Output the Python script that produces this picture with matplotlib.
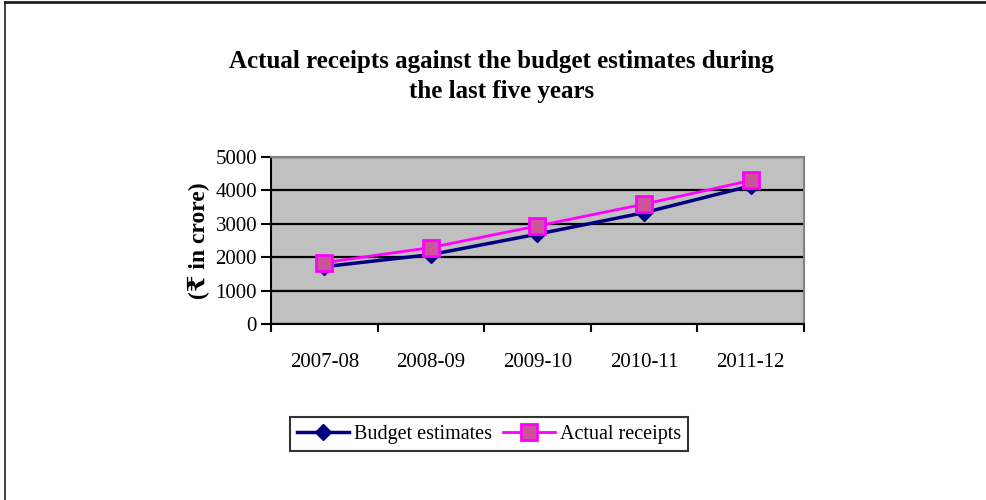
import matplotlib as mpl
mpl.use('Agg')
import matplotlib.pyplot as plt
from matplotlib.lines import Line2D
import numpy as np

# Chart data
years = ['2007-08', '2008-09', '2009-10', '2010-11', '2011-12']
budget = [1720, 2080, 2690, 3330, 4130]
actual = [1840, 2290, 2935, 3585, 4290]
yticks = [0, 1000, 2000, 3000, 4000, 5000]

plt.rcParams['font.family'] = ['Liberation Serif', 'DejaVu Serif']

fig = plt.figure(figsize=(9.86, 5.0), dpi=100)
ax = fig.add_axes([0.2748, 0.3514, 0.5406, 0.3352])
ax.set_facecolor('#c0c0c0')

x = np.arange(len(years))
ax.plot(x, budget, color='#000080', lw=2.5, marker='D', ms=8,
        mfc='#000080', mec='#000080', label='Budget estimates', zorder=3)
ax.plot(x, actual, color='#ff00ff', lw=2, marker='s', ms=12,
        mfc='#cc5599', mec='#ff00ff', mew=2, label='Actual receipts', zorder=4)

ax.set_xlim(-0.5, len(years) - 0.5)
ax.set_ylim(0, 5000)
ax.set_yticks(yticks)
ax.yaxis.grid(True, color='black', lw=1.6)
ax.set_axisbelow(True)

# category boundaries get tick marks, labels sit in the middle
ax.set_xticks(np.arange(-0.5, len(years), 1.0))
ax.set_xticklabels([])
ax.set_xticks(x, minor=True)
ax.set_xticklabels(years, minor=True, fontsize=15)
ax.tick_params(axis='x', which='minor', length=0, pad=21)
ax.tick_params(axis='x', which='major', length=6, width=1.5, direction='out')
ax.tick_params(axis='y', length=7, width=1.5, direction='out', labelsize=15, pad=3)

for s in ['top', 'right']:
    ax.spines[s].set_color('#808080')
    ax.spines[s].set_linewidth(1.5)
for s in ['left', 'bottom']:
    ax.spines[s].set_color('black')
    ax.spines[s].set_linewidth(1.5)

ax.set_ylabel('(\u20b9 in crore)', fontsize=17, fontweight='bold', labelpad=4)

fig.text(0.509, 0.847, 'Actual receipts against the budget estimates during\nthe last five years',
         ha='center', va='center', fontsize=18, fontweight='bold', linespacing=1.42)

leg = fig.legend(loc='center', bbox_to_anchor=(0.496, 0.132), ncol=2, fontsize=14.5,
                 frameon=True, fancybox=False, edgecolor='black', handlelength=2.6,
                 columnspacing=0.5, handletextpad=0.25, borderpad=0.35, borderaxespad=0.2)
leg.get_frame().set_linewidth(1.5)

# outer frame: top and left edges
fig.add_artist(Line2D([0.005, 1.0], [0.996, 0.996], transform=fig.transFigure,
                      color='#231f20', lw=2))
fig.add_artist(Line2D([0.0055, 0.0055], [0.0, 0.996], transform=fig.transFigure,
                      color='#231f20', lw=1.2))

fig.savefig('out.png', dpi=100)
